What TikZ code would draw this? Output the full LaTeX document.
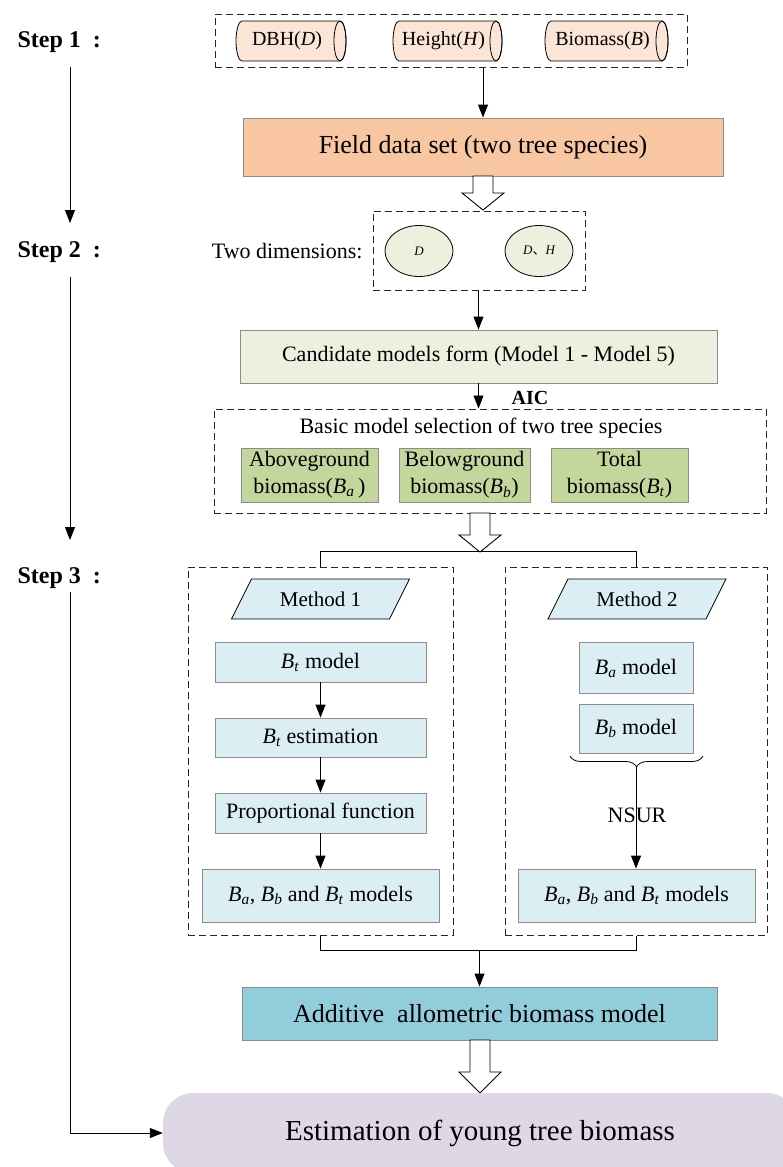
\documentclass[tikz,border=0pt]{standalone}
\usepackage{fontspec}
\setmainfont{Liberation Serif}
\newfontfamily\cjk{Noto Sans CJK SC}
\usetikzlibrary{arrows.meta,decorations.pathreplacing,shapes.geometric}
\definecolor{cylc}{HTML}{FBE5D6}
\definecolor{fieldc}{HTML}{F8C6A0}
\definecolor{palegr}{HTML}{EBF1DE}
\definecolor{midgr}{HTML}{C3D69B}
\definecolor{paleblue}{HTML}{DBEEF3}
\definecolor{addc}{HTML}{92CDDC}
\definecolor{estc}{HTML}{DED8E6}
\definecolor{edgec}{HTML}{8C8C8C}
\newcommand\fsz[2]{\fontsize{#1}{#2}\selectfont}
\newcommand\Bs[1]{\textit{B}\textsubscript{\textit{#1}}}
\newcommand\hollowarr[4]{\draw[fill=white,line width=0.9pt] ({#1-10},#2) -- ({#1+10},#2) -- ({#1+10},#3) -- ({#1+21},#3) -- (#1,#4) -- ({#1-21},#3) -- ({#1-10},#3) -- cycle;}
\newcommand\cylshape[5]{%
  \begin{scope}[shift={(#2,#3)}]
    \filldraw[fill=cylc,line width=0.8pt] ({#4/2-6},20) arc[start angle=90,end angle=-90,x radius=6,y radius=20]
      -- ({-#4/2+6},-20) arc[start angle=270,end angle=90,x radius=6,y radius=20] -- cycle;
    \draw[line width=0.8pt] ({#4/2-6},0) ellipse[x radius=6,y radius=20];
    \node[font=\fsz{20}{24}] (#1) at (-4,0) {#5};
  \end{scope}}
\newcommand\paral[4]{% name, cx, cy, text
  \begin{scope}[shift={(#2,#3)}]
    \filldraw[fill=paleblue,line width=0.8pt] (-89,-20) -- (-69,20) -- (89,20) -- (69,-20) -- cycle;
    \node[font=\fsz{21}{24}] (#1) at (0,0) {#4};
  \end{scope}}
\begin{document}
\begin{tikzpicture}[x=1pt,y=1pt,
  arr/.style={-{Triangle[length=13pt,width=10pt]},line width=0.9pt},
  conn/.style={line width=0.9pt},
  dbox/.style={draw=black!85,dash pattern=on 7pt off 4pt,line width=1pt,inner sep=0pt},
  gbox/.style={draw=edgec,line width=0.9pt,inner sep=0pt,align=center},
  steplbl/.style={font=\fsz{24}{28}\bfseries,anchor=west}]
\useasboundingbox (0,0) rectangle (782,-1167);

% ---- Step labels
\node[steplbl] (s1) at (14,-42) {Step 1\kern12pt:};
\node[steplbl] (s2) at (14,-252) {Step 2\kern12pt:};
\node[steplbl] (s3) at (14,-578) {Step 3\kern12pt:};
\coordinate (s1b) at (70,-67);
\coordinate (s2t) at (70,-223);
\coordinate (s2b) at (70,-277);
\coordinate (s3t) at (70,-540);
\coordinate (s3b) at (70,-592);

% ---- Step 1
\node[dbox,minimum width=472,minimum height=53] (top) at (451,-40.5) {};
\cylshape{dbh}{291}{-41}{110}{DBH(\textit{D})}
\cylshape{hgt}{447.5}{-41}{109}{Height(\textit{H})}
\cylshape{bio}{606.5}{-41}{123}{Biomass(\textit{B})}
\node[gbox,fill=fieldc,minimum width=480,minimum height=58,font=\fsz{26}{30}] (field) at (483,-147) {Field data set (two tree species)};
\hollowarr{483}{-176}{-193}{-210}

% ---- Step 2
\node[dbox,minimum width=212,minimum height=79] (dims) at (479,-250.5) {};
\node[font=\fsz{22}{26},anchor=east] (twod) at (366,-251) {Two dimensions:};
\node[draw,line width=0.8pt,fill=palegr,ellipse,minimum width=68,minimum height=51,inner sep=0pt,font=\fsz{13}{15}\itshape] (e1) at (419,-251) {D};
\node[draw,line width=0.8pt,fill=palegr,ellipse,minimum width=68,minimum height=51,inner sep=0pt,font=\fsz{13}{15}\itshape] (e2) at (539,-251) {D{\cjk\upshape 、}H};
\node[gbox,fill=palegr,minimum width=477,minimum height=53,font=\fsz{22}{26}] (cand) at (478.5,-356.5) {Candidate models form (Model 1 - Model 5)};
\node[dbox,minimum width=552,minimum height=104] (sel) at (490,-461) {};
\node[font=\fsz{20}{24}\bfseries] (aic) at (530,-398) {AIC};
\node[font=\fsz{22}{26}] (basic) at (481,-428) {Basic model selection of two tree species};
\node[gbox,fill=midgr,minimum width=137,minimum height=54,font=\fsz{22}{27}] (g1) at (309.5,-475) {Aboveground\\biomass(\Bs{a}\,)};
\node[gbox,fill=midgr,minimum width=131,minimum height=54,font=\fsz{22}{27}] (g2) at (464.5,-475) {Belowground\\biomass(\Bs{b})};
\node[gbox,fill=midgr,minimum width=137,minimum height=54,font=\fsz{22}{27}] (g3) at (619.5,-475) {Total\\biomass(\Bs{t})};
\hollowarr{480}{-513}{-535}{-552}

% ---- Step 3
\node[dbox,minimum width=265,minimum height=368] (left) at (320.5,-751) {};
\node[dbox,minimum width=262,minimum height=368] (right) at (636,-751) {};
\paral{m1}{320.5}{-599}{Method 1}
\paral{m2}{637}{-599}{Method 2}
\node[gbox,fill=paleblue,minimum width=211,minimum height=40,font=\fsz{22}{26}] (btm) at (320.5,-662) {\Bs{t} model};
\node[gbox,fill=paleblue,minimum width=211,minimum height=39,font=\fsz{22}{26}] (bte) at (320.5,-737.5) {\Bs{t} estimation};
\node[gbox,fill=paleblue,minimum width=211,minimum height=40,font=\fsz{22}{26}] (prop) at (320.5,-813) {Proportional function};
\node[gbox,fill=paleblue,minimum width=237,minimum height=53,font=\fsz{22}{26}] (lfin) at (320.5,-895.5) {\Bs{a}, \Bs{b} and \Bs{t} models};
\node[gbox,fill=paleblue,minimum width=114,minimum height=51,font=\fsz{22}{26}] (bam) at (636,-668) {\Bs{a} model};
\node[gbox,fill=paleblue,minimum width=114,minimum height=49,font=\fsz{22}{26}] (bbm) at (636,-728.5) {\Bs{b} model};
\node[gbox,fill=paleblue,minimum width=237,minimum height=53,font=\fsz{22}{26}] (rfin) at (636.5,-895.5) {\Bs{a}, \Bs{b} and \Bs{t} models};
\coordinate (brl) at (570,-756);
\coordinate (brr) at (703,-756);
\draw[line width=0.8pt,decorate,decoration={brace,mirror,amplitude=11pt}] (brl) -- (brr);
\coordinate (brc) at (636,-767);
\node[font=\fsz{22}{26}] (nsur) at (637,-815) {NSUR};

\node[gbox,fill=addc,minimum width=475,minimum height=53,font=\fsz{26}{30}] (add) at (479.5,-1013.5) {Additive\ \ allometric biomass model};
\hollowarr{480}{-1040}{-1072}{-1093}
\node[fill=estc,rounded corners=30pt,minimum width=634,minimum height=80,inner sep=0pt,font=\fsz{29}{33}] (est) at (480,-1133) {Estimation of young tree biomass};

% ---- connectors
\draw[arr] (s1b) -- (s2t);
\draw[arr] (s2b) -- (s3t);
\draw[arr] (s3b) |- (est.west);
\draw[arr] (top.south -| field.north) -- (field.north);
\draw[arr] (dims.south -| cand.north) -- (cand.north);
\draw[arr] (cand.south) -- (sel.north -| cand.south);
\draw[conn] (left.north) -- ++(0,15) -| (right.north);
\draw[arr] (btm) -- (bte);
\draw[arr] (bte) -- (prop);
\draw[arr] (prop) -- (lfin);
\draw[arr] (brc) -- (rfin.north -| brc);
\draw[conn] (left.south) -- ++(0,-15) -| (right.south);
\coordinate (mid) at (479.5,-950);
\draw[arr] (mid) -- (add.north);
\end{tikzpicture}
\end{document}
